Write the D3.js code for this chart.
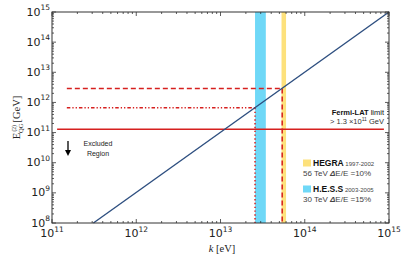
<!DOCTYPE html>
<html>
<head>
<meta charset="utf-8">
<script src="https://cdn.jsdelivr.net/npm/d3@7"></script>
<style>
  body { margin: 0; background: #fff; }
  svg { display: block; }
</style>
</head>
<body>
<svg id="chart" width="407" height="259"></svg>
<script>
// axis ranges / ticks
const kDomain = [1e11, 1e15];
const eDomain = [1e8, 1e15];
const xTickExp = [11, 12, 13, 14, 15];
const yTickExp = [8, 9, 10, 11, 12, 13, 14, 15];

// E_QG = k^2 line, read at the two ends
const diagK = [3.1e11, 1e15];
const diagE = [1e8, 1e15];

// Fermi-LAT limit
const fermiE = 1.3e11;
const fermiK = [1.15e11, 8.7e14];

// experiments
const bandNames = ["HEGRA", "H.E.S.S"];
const bandLo = [5.3e13, 2.57e13];
const bandHi = [6.0e13, 3.45e13];
const bandColors = ["#fde17c", "#6fd8f7"];
const markK = [5.4e13, 2.57e13];
const markE = [2.9e12, 6.6e11];
const markStartK = [1.5e11, 1.5e11];
const markDash = ["5,3", "3.5,2,1.3,2,1.3,2"];
const markVDash = ["5,3", "1.4,2.4"];

const svg = d3.select("#chart");
const margin = {left: 52, right: 18, top: 12, bottom: 36};
const W = 407, H = 259;
const x = d3.scaleLog().domain(kDomain).range([margin.left, W - margin.right]);
const y = d3.scaleLog().domain(eDomain).range([H - margin.bottom, margin.top]);
const red = "#d6201f";

const g = svg.append("g");

// bands
bandNames.forEach((n, i) => {
  g.append("rect")
    .attr("x", x(bandLo[i]))
    .attr("width", x(bandHi[i]) - x(bandLo[i]))
    .attr("y", y(eDomain[1]))
    .attr("height", y(eDomain[0]) - y(eDomain[1]))
    .attr("fill", bandColors[i]);
});

// fermi line
g.append("line")
  .attr("x1", x(fermiK[0])).attr("x2", x(fermiK[1]))
  .attr("y1", y(fermiE)).attr("y2", y(fermiE))
  .attr("stroke", red).attr("stroke-width", 1.5);

// horizontal + vertical markers
bandNames.forEach((n, i) => {
  g.append("line")
    .attr("x1", x(markStartK[i])).attr("x2", x(markK[i]))
    .attr("y1", y(markE[i])).attr("y2", y(markE[i]))
    .attr("stroke", red).attr("stroke-width", 1.5)
    .attr("stroke-dasharray", markDash[i]);
  g.append("line")
    .attr("x1", x(markK[i])).attr("x2", x(markK[i]))
    .attr("y1", y(markE[i])).attr("y2", y(eDomain[0]))
    .attr("stroke", red).attr("stroke-width", 1.5)
    .attr("stroke-dasharray", markVDash[i]);
});

// diagonal
g.append("path")
  .datum(diagK.map((k, i) => [k, diagE[i]]))
  .attr("d", d3.line().x(d => x(d[0])).y(d => y(d[1])))
  .attr("fill", "none")
  .attr("stroke", "#2e4f80")
  .attr("stroke-width", 1.4);

// frame
const axisColor = "#333";
g.append("rect")
  .attr("x", margin.left).attr("y", margin.top)
  .attr("width", W - margin.left - margin.right)
  .attr("height", H - margin.top - margin.bottom)
  .attr("fill", "none").attr("stroke", axisColor).attr("stroke-width", 1);

// ticks (inward, all four sides)
function minorVals(dom) {
  const out = [];
  for (let e = Math.log10(dom[0]); e < Math.log10(dom[1]); e++)
    for (let m = 2; m < 10; m++) out.push(m * Math.pow(10, e));
  return out;
}
const ticks = g.append("g").attr("stroke", axisColor).attr("stroke-width", 0.8);
const x0 = margin.left, x1 = W - margin.right, y0 = H - margin.bottom, y1 = margin.top;
xTickExp.forEach(e => {
  const px = x(Math.pow(10, e));
  ticks.append("line").attr("x1", px).attr("x2", px).attr("y1", y0).attr("y2", y0 - 4);
  ticks.append("line").attr("x1", px).attr("x2", px).attr("y1", y1).attr("y2", y1 + 4);
});
minorVals(kDomain).forEach(v => {
  const px = x(v);
  ticks.append("line").attr("x1", px).attr("x2", px).attr("y1", y0).attr("y2", y0 - 2);
  ticks.append("line").attr("x1", px).attr("x2", px).attr("y1", y1).attr("y2", y1 + 2);
});
yTickExp.forEach(e => {
  const py = y(Math.pow(10, e));
  ticks.append("line").attr("y1", py).attr("y2", py).attr("x1", x0).attr("x2", x0 + 4);
  ticks.append("line").attr("y1", py).attr("y2", py).attr("x1", x1).attr("x2", x1 - 4);
});
minorVals(eDomain).forEach(v => {
  const py = y(v);
  ticks.append("line").attr("y1", py).attr("y2", py).attr("x1", x0).attr("x2", x0 + 2);
  ticks.append("line").attr("y1", py).attr("y2", py).attr("x1", x1).attr("x2", x1 - 2);
});

// tick labels
const tickFont = "DejaVu Sans, sans-serif";
xTickExp.forEach(e => {
  const t = svg.append("text")
    .attr("x", x(Math.pow(10, e))).attr("y", y0 + 14)
    .attr("text-anchor", "middle")
    .attr("font-family", tickFont).attr("font-size", 11).attr("fill", "#222");
  t.append("tspan").text("10");
  t.append("tspan").attr("dy", -5.5).attr("font-size", 7.5).text(e);
});
yTickExp.forEach(e => {
  const t = svg.append("text")
    .attr("x", x0 - 2).attr("y", y(Math.pow(10, e)) + 3.5)
    .attr("text-anchor", "end")
    .attr("font-family", tickFont).attr("font-size", 11).attr("fill", "#222");
  t.append("tspan").text("10");
  t.append("tspan").attr("dy", -5.5).attr("font-size", 7.5).text(e);
});

// axis labels
const serif = "Liberation Serif, Times New Roman, serif";
const xl = svg.append("text")
  .attr("x", 222).attr("y", 252)
  .attr("text-anchor", "middle")
  .attr("font-family", serif).attr("font-size", 10.5).attr("fill", "#222");
xl.append("tspan").attr("font-style", "italic").text("k");
xl.append("tspan").text(" [eV]");

const yl = svg.append("text")
  .attr("transform", `translate(20,${(y0 + y1) / 2}) rotate(-90)`)
  .attr("text-anchor", "middle")
  .attr("font-family", serif).attr("font-size", 10.5).attr("fill", "#222");
yl.append("tspan").text("E");
yl.append("tspan").attr("dy", 2.5).attr("font-size", 6.5).text("QG");
yl.append("tspan").attr("dy", -7).attr("dx", -8).attr("font-size", 5.5).text("(2)");
yl.append("tspan").attr("dy", 4.5).text(" [GeV]");

// annotations
const sans = "Liberation Sans, Arial, sans-serif";
const f1 = svg.append("text")
  .attr("x", 384).attr("y", 115).attr("text-anchor", "end")
  .attr("font-family", sans).attr("font-size", 7.5).attr("fill", "#111");
f1.append("tspan").attr("font-weight", "bold").text("Fermi-LAT");
f1.append("tspan").text(" limit");
const f2 = svg.append("text")
  .attr("x", 384).attr("y", 124).attr("text-anchor", "end")
  .attr("font-family", sans).attr("font-size", 7.5).attr("fill", "#333");
f2.append("tspan").text("> 1.3 ×10");
f2.append("tspan").attr("dy", -3).attr("font-size", 5).text("11");
f2.append("tspan").attr("dy", 3).text(" GeV");

svg.append("text").attr("x", 98).attr("y", 146).attr("text-anchor", "middle")
  .attr("font-family", sans).attr("font-size", 7).attr("fill", "#222").text("Excluded");
svg.append("text").attr("x", 98).attr("y", 156).attr("text-anchor", "middle")
  .attr("font-family", sans).attr("font-size", 7).attr("fill", "#222").text("Region");
svg.append("line").attr("x1", 68).attr("x2", 68).attr("y1", 141).attr("y2", 152)
  .attr("stroke", "#000").attr("stroke-width", 1.3);
svg.append("path").attr("d", "M65,150 L71,150 L68,156 Z").attr("fill", "#000");

// legend
const legY = [166, 192];
const legYears = ["1997-2002", "2003-2005"];
const legDesc = [["56 TeV ", "10%"], ["30 TeV ", "15%"]];
bandNames.forEach((n, i) => {
  svg.append("rect").attr("x", 303).attr("y", legY[i] - 6.5)
    .attr("width", 8).attr("height", 7).attr("fill", bandColors[i]);
  const t = svg.append("text").attr("x", 313).attr("y", legY[i])
    .attr("font-family", sans).attr("fill", "#111");
  t.append("tspan").attr("font-size", 8.5).attr("font-weight", "bold").text(n);
  t.append("tspan").attr("font-size", 6).attr("fill", "#444").text(" " + legYears[i]);
  const d = svg.append("text").attr("x", 303).attr("y", legY[i] + 10)
    .attr("font-family", sans).attr("font-size", 8).attr("fill", "#444");
  d.append("tspan").text(legDesc[i][0]);
  d.append("tspan").attr("font-weight", "bold").attr("font-style", "italic").text("Δ");
  d.append("tspan").text("E/E =" + legDesc[i][1]);
});
</script>
</body>
</html>
